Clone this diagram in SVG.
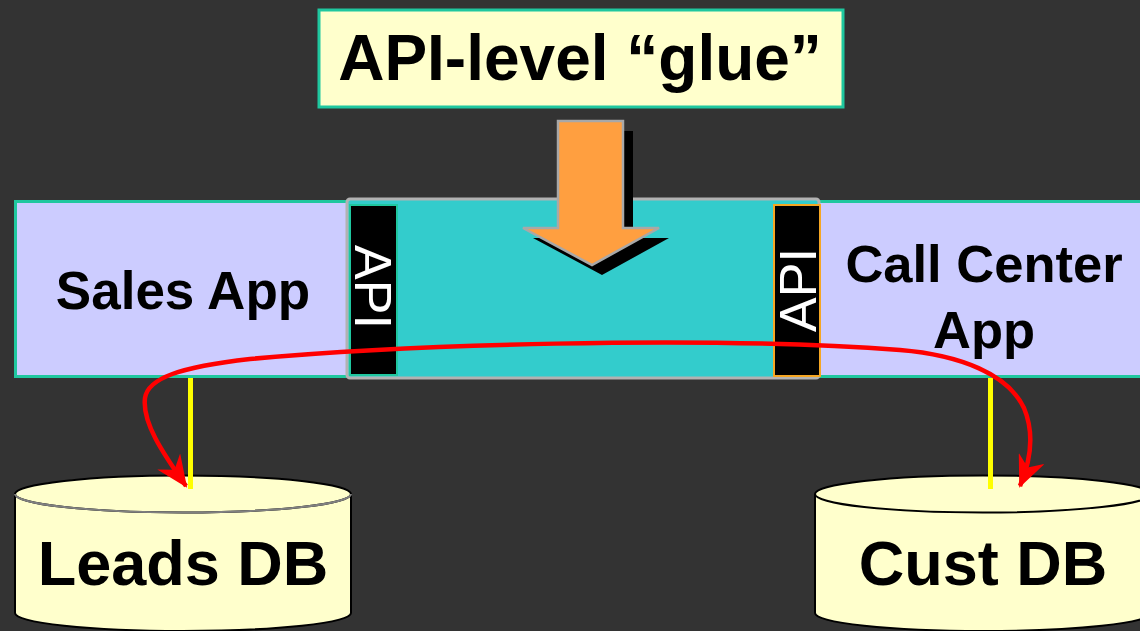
<svg xmlns="http://www.w3.org/2000/svg" width="1140" height="631" viewBox="0 0 1140 631">
  <style>
    .lbl { font-family: "Liberation Sans", Arial, sans-serif; font-weight: bold; fill: #000; text-anchor: middle; }
    .api { font-family: "Liberation Sans", Arial, sans-serif; fill: #fff; text-anchor: middle; font-size: 52px; }
    .app { fill: #CCCCFF; stroke: #1FC79F; stroke-width: 3; }
    .db { fill: #FFFFCC; stroke: #000; stroke-width: 2; }
    .yl { stroke: #FFFF00; stroke-width: 5; fill: none; }
    .rd { stroke: #FF0000; stroke-width: 4.5; fill: none; }
  </style>
  <defs>
    <marker id="ah" viewBox="0 0 32 28" markerWidth="32" markerHeight="28" refX="30" refY="14" markerUnits="userSpaceOnUse" orient="auto-start-reverse">
      <path d="M0,0 L32,14 L0,28 L10,14 z" fill="#FF0000"/>
    </marker>
  </defs>
  <rect x="0" y="0" width="1140" height="631" fill="#333333"/>

  <g id="glue">
    <rect x="319" y="10" width="524" height="97" fill="#FFFFCC" stroke="#1FC79F" stroke-width="3"/>
    <text class="lbl" x="580" y="80" font-size="64">API-level “glue”</text>
  </g>

  <g id="sales-app">
    <rect class="app" x="15.5" y="201.5" width="340" height="175"/>
    <text class="lbl" x="183" y="309" font-size="53">Sales App</text>
  </g>

  <g id="call-center-app">
    <rect class="app" x="815" y="201.5" width="340" height="175"/>
    <text class="lbl" x="984" y="282" font-size="52.5">Call Center</text>
    <text class="lbl" x="984" y="348" font-size="52.5">App</text>
  </g>

  <g id="glue-layer">
    <rect x="347" y="199" width="472" height="179" rx="3" fill="#33CCCC" stroke="#B2B2B2" stroke-width="3"/>
  </g>

  <g id="api-left">
    <rect x="350" y="205" width="47" height="170" fill="#000" stroke="#1FC79F" stroke-width="2"/>
    <text class="api" transform="translate(373,287) rotate(90)" y="18.5">API</text>
  </g>

  <g id="api-right">
    <rect x="774" y="205" width="46" height="171" fill="#000" stroke="#F5A623" stroke-width="2"/>
    <text class="api" transform="translate(797,290) rotate(-90)" y="18.5">API</text>
  </g>

  <g id="glue-arrow">
    <polygon points="568,131 633,131 633,238 669,238 602,275 533,238 568,238" fill="#000"/>
    <polygon points="558,121 623,121 623,228 659,228 592,265 523,228 558,228" fill="#FF9F40" stroke="#A8A8A8" stroke-width="2.5" stroke-linejoin="miter"/>
  </g>

  <g id="leads-db">
    <path class="db" d="M15,494 L15,613 A168,18 0 0 0 351,613 L351,494"/>
    <ellipse cx="183" cy="494" rx="168" ry="18.5" fill="#FFFFCC" stroke="#000" stroke-width="2"/>
    <path d="M15,494 A168,18.5 0 0 0 351,494" fill="none" stroke="#808080" stroke-width="2"/>
    <text class="lbl" x="183" y="585" font-size="63">Leads DB</text>
  </g>

  <g id="cust-db">
    <path class="db" d="M815,494 L815,613 A168,18 0 0 0 1151,613 L1151,494"/>
    <ellipse cx="983" cy="494" rx="168" ry="18.5" fill="#FFFFCC" stroke="#000" stroke-width="2"/>
    <text class="lbl" x="983" y="585" font-size="63">Cust DB</text>
  </g>

  <g id="connectors">
    <line class="yl" x1="190.5" y1="378" x2="190.5" y2="489"/>
    <line class="yl" x1="990.5" y1="378" x2="990.5" y2="489"/>
    <path class="rd" marker-start="url(#ah)" marker-end="url(#ah)" d="M186,486 C162,452 142,422 145,398 C148,378 180,367 250,359 C400,345 700,335 900,350 C960,355 1008,374 1024,408 C1034,432 1031,460 1020,486"/>
  </g>
</svg>
